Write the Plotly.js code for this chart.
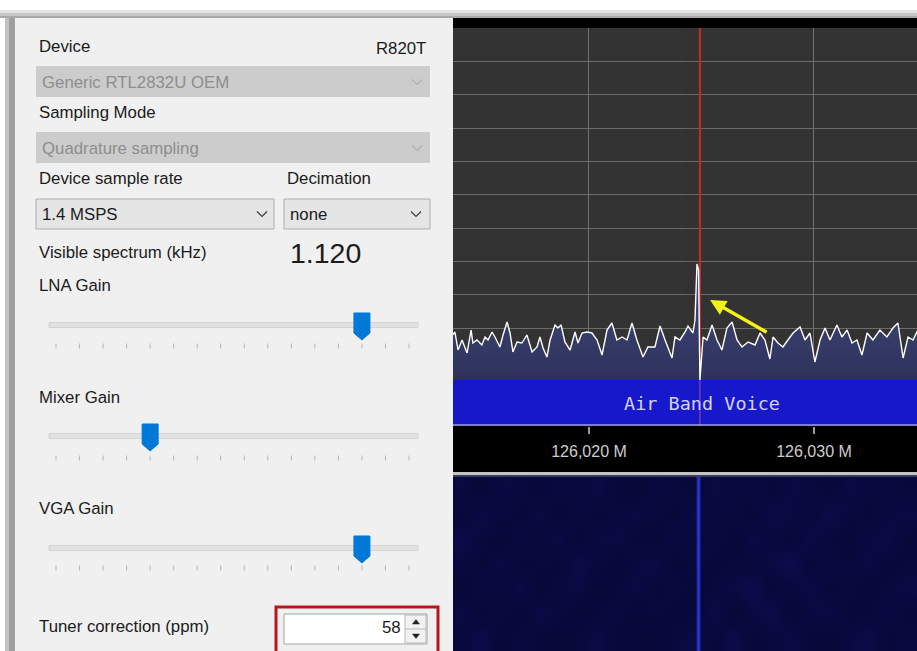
<!DOCTYPE html>
<html>
<head>
<meta charset="utf-8">
<script src="https://cdn.plot.ly/plotly-3.0.1.min.js"></script>
<style>
  html, body { margin: 0; padding: 0; background: #ffffff; }
  #chart { width: 917px; height: 651px; }
</style>
</head>
<body>
<div id="chart"></div>
<script>
// ---------------- DATA ----------------
// Spectrum trace (frequency in MHz, level in dB)
const freqMHz = [126.01396,
  126.01404,126.01418,126.01436,126.01458,126.01476,126.01484,126.01502,126.01524,126.01538,126.01551,
  126.01569,126.01582,126.01604,126.01618,126.01636,126.01649,126.01662,126.01680,126.01702,126.01724,
  126.01747,126.01769,126.01782,126.01796,126.01813,126.01827,126.01849,126.01862,126.01876,126.01893,
  126.01916,126.01938,126.01951,126.01969,126.01991,126.02013,126.02036,126.02058,126.02080,126.02102,
  126.02124,126.02147,126.02169,126.02191,126.02213,126.02240,126.02262,126.02293,126.02316,126.02338,
  126.02369,126.02382,126.02404,126.02427,126.02440,126.02462,126.02471,126.02480,126.02487,126.02493,
  126.02507,126.02524,126.02547,126.02569,126.02591,126.02613,126.02636,126.02658,126.02680,126.02707,
  126.02738,126.02760,126.02782,126.02804,126.02818,126.02840,126.02862,126.02884,126.02907,126.02938,
  126.02960,126.02982,126.03004,126.03027,126.03049,126.03071,126.03102,126.03124,126.03147,126.03169,
  126.03191,126.03213,126.03236,126.03262,126.03293,126.03324,126.03351,126.03373,126.03396,126.03418,
  126.03440,126.03462];
const powerDb = [-92.0,
  -91.2,-96.6,-93.6,-97.5,-90.6,-94.5,-93.6,-95.1,-92.7,-93.6,
  -91.2,-92.7,-95.7,-92.1,-88.2,-91.5,-97.2,-94.2,-94.5,-92.1,
  -97.2,-95.7,-92.7,-96.0,-98.7,-93.6,-89.1,-90.0,-89.1,-94.2,
  -96.6,-91.2,-94.5,-91.5,-91.2,-91.5,-93.6,-98.1,-90.6,-88.5,
  -93.6,-92.7,-93.6,-88.5,-93.6,-98.7,-95.7,-95.7,-89.4,-93.6,
  -99.0,-92.7,-93.6,-91.2,-89.4,-91.5,-87.6,-70.8,-72.6,-105.6,
  -92.7,-93.6,-89.1,-93.6,-96.6,-90.0,-88.2,-93.6,-95.7,-94.2,
  -95.1,-91.5,-93.6,-99.3,-92.7,-94.5,-95.7,-93.6,-91.5,-89.7,
  -93.6,-91.5,-100.2,-93.6,-90.0,-93.6,-89.1,-92.7,-90.6,-94.5,
  -93.6,-98.1,-91.5,-93.6,-90.6,-92.7,-90.0,-88.5,-99.0,-92.7,
  -93.6,-90.6];

const freqTicks = [126.020, 126.030];
const freqTickLabels = ['126,020 M', '126,030 M'];
const levelGrid = [0, -10, -20, -30, -40, -50, -60, -70, -80, -90, -100];

const tunedFreq = 126.02493;     // red marker
const carrierFreq = 126.02487;   // carrier in waterfall
const filterLow = 126.02422;     // filter edge
const bandName = 'Air Band Voice';

// Waterfall intensity (rows = time, cols = frequency bins)
const waterfall = [
  [0.32,0.40,0.28,0.35,0.30,0.26,0.33,0.38,0.29,0.31,0.27,0.34,0.36,0.30,0.41,0.29,0.33,0.37,0.31,0.28,0.35,0.39,0.30,0.34],
  [0.36,0.29,0.34,0.27,0.38,0.33,0.28,0.31,0.35,0.26,0.33,0.29,0.31,0.38,0.27,0.35,0.40,0.28,0.34,0.37,0.29,0.31,0.36,0.30],
  [0.28,0.35,0.31,0.39,0.27,0.34,0.36,0.27,0.32,0.37,0.30,0.35,0.28,0.33,0.36,0.42,0.30,0.33,0.38,0.30,0.34,0.28,0.33,0.37],
  [0.34,0.30,0.37,0.29,0.33,0.30,0.39,0.33,0.28,0.34,0.38,0.27,0.35,0.29,0.32,0.31,0.36,0.43,0.29,0.35,0.31,0.37,0.29,0.32],
  [0.39,0.33,0.27,0.36,0.31,0.37,0.29,0.35,0.37,0.30,0.29,0.36,0.31,0.35,0.28,0.37,0.33,0.30,0.38,0.32,0.28,0.35,0.38,0.29],
  [0.30,0.37,0.33,0.30,0.36,0.28,0.34,0.30,0.33,0.36,0.32,0.30,0.37,0.32,0.34,0.29,0.38,0.35,0.31,0.39,0.33,0.30,0.34,0.36],
  [0.35,0.28,0.36,0.33,0.29,0.35,0.31,0.37,0.30,0.28,0.35,0.33,0.29,0.36,0.31,0.35,0.30,0.36,0.33,0.29,0.37,0.32,0.35,0.31]
];

// Left control panel
const deviceName = 'Generic RTL2832U OEM';
const tunerName = 'R820T';
const samplingMode = 'Quadrature sampling';
const sampleRate = '1.4 MSPS';
const decimation = 'none';
const visibleSpectrum = '1.120';
const sliderLabels = ['LNA Gain', 'Mixer Gain', 'VGA Gain'];
const sliderSteps = [13, 4, 13];
const sliderTickCount = 16;
const tunerCorrectionPpm = 58;

// ---------------- LAYOUT HELPERS ----------------
const W = 917, H = 651;
const PX = x => x / W;
const PY = y => 1 - y / H;
const FONT = 'Liberation Sans, Arial, sans-serif';

const shapes = [];
const annotations = [];

function rect(x0, y0, x1, y1, fill, lineColor, lineWidth, layer) {
  shapes.push({type: 'rect', xref: 'paper', yref: 'paper',
    x0: PX(x0), x1: PX(x1), y0: PY(y1), y1: PY(y0),
    fillcolor: fill, line: {color: lineColor || fill, width: lineWidth === undefined ? 0 : lineWidth},
    layer: layer || 'below'});
}
function seg(x0, y0, x1, y1, color, width, layer) {
  shapes.push({type: 'line', xref: 'paper', yref: 'paper',
    x0: PX(x0), x1: PX(x1), y0: PY(y0), y1: PY(y1),
    line: {color: color, width: width}, layer: layer || 'above'});
}
function pathPx(points, fill, lineColor, lineWidth, closed) {
  let d = points.map((p, i) => (i ? 'L' : 'M') + PX(p[0]).toFixed(5) + ',' + PY(p[1]).toFixed(5)).join(' ');
  if (closed) d += ' Z';
  shapes.push({type: 'path', xref: 'paper', yref: 'paper', path: d,
    fillcolor: fill || 'rgba(0,0,0,0)', line: {color: lineColor, width: lineWidth}, layer: 'above'});
}
function chevron(cx, cy, color) {
  pathPx([[cx - 5, cy - 2.5], [cx, cy + 2.5], [cx + 5, cy - 2.5]], null, color, 1.2, false);
}
function txt(x, y, text, opts) {
  opts = opts || {};
  annotations.push({xref: 'paper', yref: 'paper', x: PX(x), y: PY(y), text: text,
    showarrow: false, xanchor: opts.anchor || 'left', yanchor: 'middle',
    font: {family: opts.family || FONT, size: opts.size || 16.8, color: opts.color || '#1b1b1b'},
    borderpad: 0});
}

// ---------------- WINDOW FRAME ----------------
rect(0, 10, W, 13, '#e4e4e4');
rect(0, 13, W, 16, '#c6c6c6');
rect(0, 16, W, 18, '#a9a9a9');
rect(5, 18, 9, H, '#c2c2c2');
rect(9, 18, 15, H, '#9e9e9e');
rect(15, 18, 453, H, '#f0f0f0');

// spectrum frame strips
rect(453, 18, W, 28, '#000000');
rect(453, 426, W, 472, '#000000');
rect(453, 472, W, 475, '#c4c4c4');
rect(453, 475, W, 477, '#3a3a5a');

// ---------------- LEFT PANEL ----------------
txt(38, 47, 'Device');
txt(427, 48, tunerName, {anchor: 'right'});
rect(36, 66, 430, 97, '#cccccc');
txt(41, 82, deviceName, {color: '#8e8e8e'});
chevron(417, 82, '#b2b2b2');

txt(38, 112, 'Sampling Mode');
rect(36, 132, 430, 163, '#cccccc');
txt(41, 148.5, samplingMode, {color: '#8e8e8e'});
chevron(417, 148, '#b2b2b2');

txt(38, 178.5, 'Device sample rate');
txt(286, 178.5, 'Decimation');
rect(36, 199, 274, 229, '#e5e5e5', '#adadad', 1);
txt(41, 214, sampleRate);
chevron(262, 214, '#3c3c3c');
rect(284, 199, 430, 229, '#e5e5e5', '#adadad', 1);
txt(289, 214, decimation);
chevron(416, 214, '#3c3c3c');

txt(38, 252.5, 'Visible spectrum (kHz)');
txt(289, 252.5, visibleSpectrum, {size: 28.5});

// sliders
const sliderTrackY = [325, 436, 548];
const sliderTickY = [346, 458, 568];
const sliderLabelY = [285, 397.5, 508.5];
const tickX0 = 56, tickX1 = 409;
const tickStep = (tickX1 - tickX0) / (sliderTickCount - 1);
sliderLabels.forEach((lab, i) => {
  txt(38, sliderLabelY[i], lab);
  const ty = sliderTrackY[i];
  rect(49, ty - 2.5, 418, ty + 2.5, '#e2e2e2', '#d4d4d4', 1);
  for (let k = 0; k < sliderTickCount; k++) {
    const x = tickX0 + k * tickStep;
    seg(x, sliderTickY[i] - 2.5, x, sliderTickY[i] + 2.5, '#b4b4b4', 1);
  }
  const cx = tickX0 + sliderSteps[i] * tickStep;
  pathPx([[cx - 8, ty - 12], [cx + 8, ty - 12], [cx + 8, ty + 8], [cx, ty + 15], [cx - 8, ty + 8]],
    '#0078d7', '#0078d7', 1, true);
});

// tuner correction
txt(38, 626, 'Tuner correction (ppm)');
rect(284, 614, 427, 644, '#ffffff', '#a3a3a3', 1);
txt(402, 627.5, String(tunerCorrectionPpm), {anchor: 'right'});
rect(405, 615, 426, 643, '#f2f2f2', '#b8b8b8', 1);
seg(405, 629, 426, 629, '#b8b8b8', 1);
pathPx([[412.5, 624], [419.5, 624], [416, 619.5]], '#222222', '#222222', 0.5, true);
pathPx([[412.5, 634], [419.5, 634], [416, 638.5]], '#222222', '#222222', 0.5, true);
rect(276, 607, 438, 660, 'rgba(0,0,0,0)', '#b3191c', 3, 'above');

// ---------------- SPECTRUM SHAPES ----------------
const yTop = 0, yBottom = -119.4, bandTop = -105.6;
shapes.push({type: 'rect', xref: 'x', yref: 'y', x0: filterLow, x1: tunedFreq, y0: bandTop, y1: yTop,
  fillcolor: 'rgba(90,35,35,0.10)', line: {width: 0}, layer: 'between'});
shapes.push({type: 'line', xref: 'x', yref: 'y', x0: tunedFreq, x1: tunedFreq, y0: yBottom, y1: yTop,
  line: {color: '#c62a2a', width: 2}, layer: 'between'});
shapes.push({type: 'rect', xref: 'paper', yref: 'y', x0: PX(453), x1: 1, y0: yBottom, y1: bandTop,
  fillcolor: '#1717cc', line: {width: 0}, layer: 'above'});
shapes.push({type: 'line', xref: 'x', yref: 'y', x0: tunedFreq, x1: tunedFreq, y0: yBottom, y1: bandTop,
  line: {color: 'rgba(220,110,150,0.35)', width: 2}, layer: 'above'});
shapes.push({type: 'line', xref: 'paper', yref: 'y', x0: PX(453), x1: 1, y0: yBottom + 0.3, y1: yBottom + 0.3,
  line: {color: '#a0a0cc', width: 1.5}, layer: 'above'});

annotations.push({xref: 'x', yref: 'y', x: 126.02502, y: (bandTop + yBottom) / 2, text: bandName,
  showarrow: false, xanchor: 'center', yanchor: 'middle',
  font: {family: 'DejaVu Sans Mono, monospace', size: 18.5, color: '#d4d4ff'}});

// yellow arrow
annotations.push({xref: 'x', yref: 'y', axref: 'x', ayref: 'y',
  x: 126.02538, y: -81.6, ax: 126.02796, ay: -91.5, text: '',
  showarrow: true, arrowhead: 2, arrowsize: 0.9, arrowwidth: 3.5, arrowcolor: '#f2f21a'});

// ---------------- TRACES ----------------
const fStart = 126.013956, fEnd = 126.034578;
const nCols = waterfall[0].length;
const dxw = (fEnd - fStart) / nCols;

const traces = [
  {type: 'scatter', mode: 'lines', x: [fStart, fEnd], y: [bandTop - 2, bandTop - 2],
   line: {width: 0, color: 'rgba(0,0,0,0)'}, hoverinfo: 'skip', showlegend: false, xaxis: 'x', yaxis: 'y'},
  {type: 'scatter', mode: 'lines', x: freqMHz, y: powerDb,
   line: {color: '#ffffff', width: 1.4}, fill: 'tonexty',
   fillgradient: {type: 'vertical', colorscale: [[0, '#2c3058'], [1, '#454b82']]},
   hoverinfo: 'skip', showlegend: false, xaxis: 'x', yaxis: 'y'},
  {type: 'heatmap', z: waterfall, x0: fStart + dxw / 2, dx: dxw, y0: 0, dy: 1,
   zmin: 0, zmax: 1, zsmooth: 'best', showscale: false, hoverinfo: 'skip',
   colorscale: [[0, '#05052a'], [0.3, '#08083a'], [0.45, '#0d0d52'], [1, '#1a1a80']],
   xaxis: 'x2', yaxis: 'y2'},
  {type: 'scatter', mode: 'lines', x: [carrierFreq, carrierFreq], y: [-0.5, waterfall.length - 0.5],
   line: {color: 'rgba(40,60,220,0.35)', width: 5}, hoverinfo: 'skip', showlegend: false, xaxis: 'x2', yaxis: 'y2'},
  {type: 'scatter', mode: 'lines', x: [carrierFreq, carrierFreq], y: [-0.5, waterfall.length - 0.5],
   line: {color: '#2c3ce0', width: 2}, hoverinfo: 'skip', showlegend: false, xaxis: 'x2', yaxis: 'y2'}
];

const layout = {
  width: W, height: H,
  margin: {l: 0, r: 0, t: 0, b: 0, pad: 0},
  paper_bgcolor: '#ffffff',
  plot_bgcolor: '#333333',
  showlegend: false,
  xaxis: {domain: [PX(453), 1], range: [fStart, fEnd], anchor: 'y',
    tickvals: freqTicks, ticktext: freqTickLabels, ticks: 'outside', ticklen: 7, tickwidth: 1.5,
    tickcolor: '#9a9a9a', ticklabelstandoff: 4,
    tickfont: {family: FONT, size: 16, color: '#cdcdcd'},
    showgrid: true, gridcolor: '#707070', gridwidth: 1, zeroline: false, showline: false, fixedrange: true},
  yaxis: {domain: [PY(426), PY(28)], range: [yBottom, yTop], anchor: 'x',
    tickvals: levelGrid, showticklabels: false, ticks: '',
    showgrid: true, gridcolor: '#6c6c6c', gridwidth: 1, zeroline: false, showline: false, fixedrange: true},
  xaxis2: {domain: [PX(453), 1], range: [fStart, fEnd], anchor: 'y2',
    showticklabels: false, showgrid: false, zeroline: false, ticks: '', fixedrange: true},
  yaxis2: {domain: [0, PY(477)], range: [-0.5, waterfall.length - 0.5], anchor: 'x2',
    visible: false, fixedrange: true},
  shapes: shapes,
  annotations: annotations
};

Plotly.newPlot('chart', traces, layout, {displayModeBar: false, staticPlot: true});
</script>
</body>
</html>
